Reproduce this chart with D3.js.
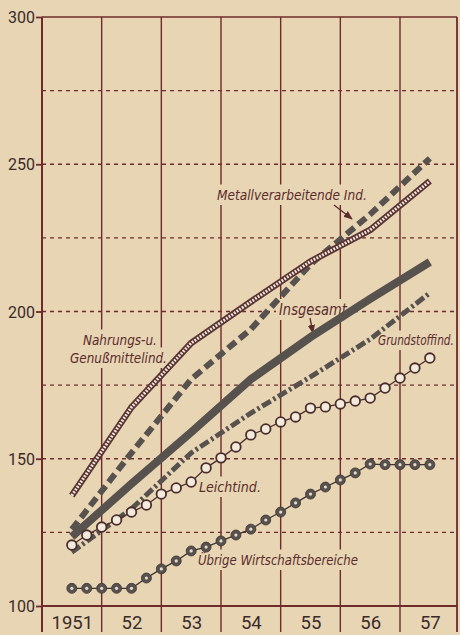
<!DOCTYPE html>
<html><head><meta charset="utf-8">
<script src="https://cdn.jsdelivr.net/npm/d3@7/dist/d3.min.js"></script>
<style>
html,body{margin:0;padding:0;background:#e8d5b4;}
svg{display:block;}
</style></head>
<body>
<svg id="c" width="460" height="635"></svg>
<script>
// ---------- data ----------
const years = [1951, 1952, 1953, 1954, 1955, 1956, 1957];
const yearLabels = ["1951", "52", "53", "54", "55", "56", "57"];
const yTicks = [100, 150, 200, 250, 300];
const yDashed = [125, 150, 175, 200, 225, 250, 275];

// annual values (plotted at mid-year)
const annualT = [1951.5, 1952.5, 1953.5, 1954.5, 1955.5, 1956.5, 1957.5];
const nahrung = [137.5, 167.5, 189.3, 203.3, 217.0, 227.7, 244.3];
const metall = [126.0, 152.0, 177.0, 194.0, 216.0, 233.0, 252.0];
const insgesamt = [123.5, 141.5, 159.0, 177.0, 191.3, 204.3, 216.8];
const grundstoff = [118.3, 133.0, 152.0, 165.5, 177.8, 190.6, 206.3];

// quarterly values
const quarterT = [1951.5, 1951.75, 1952.0, 1952.25, 1952.5, 1952.75, 1953.0, 1953.25, 1953.5, 1953.75,
  1954.0, 1954.25, 1954.5, 1954.75, 1955.0, 1955.25, 1955.5, 1955.75, 1956.0, 1956.25,
  1956.5, 1956.75, 1957.0, 1957.25, 1957.5];
const leicht = [120.7, 124.1, 126.8, 129.2, 131.9, 134.3, 138.0, 140.1, 142.1, 146.9,
  150.3, 154.0, 158.1, 160.1, 162.5, 164.2, 167.2, 167.6, 168.6, 169.6,
  170.6, 174.0, 177.4, 180.8, 184.2];
const uebrige = [106.0, 106.0, 106.0, 106.0, 106.0, 109.5, 112.6, 115.3, 118.7, 120.0,
  122.1, 124.1, 126.1, 129.2, 131.9, 135.0, 138.0, 140.4, 142.8, 145.2,
  148.2, 148.0, 148.0, 148.0, 148.0];

// ---------- layout ----------
const svg = d3.select("#c");
const L = 42, R = 457, T = 17, B = 606, BOT = 632;
const x = d3.scaleLinear().domain([1951, 1957]).range([L, 400]);
const y = d3.scaleLinear().domain([100, 300]).range([B, T]);

const bg = "#e8d5b4", gridC = "#6e2b2b", labC = "#5a2c2c", tickC = "#3a2b2b", grey = "#57524e";

svg.append("rect").attr("width", 460).attr("height", 635).attr("fill", bg);

// dashed horizontal grid
svg.append("g").selectAll("line").data(yDashed).join("line")
  .attr("x1", L).attr("x2", R).attr("y1", d => y(d)).attr("y2", d => y(d))
  .attr("stroke", gridC).attr("stroke-width", 1.3).attr("stroke-dasharray", "4,4");

// vertical year lines
svg.append("g").selectAll("line").data(years.slice(1)).join("line")
  .attr("x1", d => x(d)).attr("x2", d => x(d)).attr("y1", T).attr("y2", BOT)
  .attr("stroke", gridC).attr("stroke-width", 1.4);

// frame
svg.append("line").attr("x1", L).attr("x2", R).attr("y1", T).attr("y2", T).attr("stroke", gridC).attr("stroke-width", 1.6);
svg.append("line").attr("x1", R).attr("x2", R).attr("y1", T).attr("y2", BOT).attr("stroke", gridC).attr("stroke-width", 1.8);
svg.append("line").attr("x1", x(1951)).attr("x2", x(1951)).attr("y1", T).attr("y2", BOT).attr("stroke", gridC).attr("stroke-width", 2);
svg.append("line").attr("x1", L).attr("x2", R).attr("y1", B).attr("y2", B).attr("stroke", gridC).attr("stroke-width", 2.2);

// y axis
const yAxis = svg.append("g").attr("transform", `translate(${L},0)`)
  .call(d3.axisLeft(y).tickValues(yTicks).tickSize(6).tickPadding(1).tickFormat(d3.format("d")));
yAxis.select(".domain").remove();
yAxis.selectAll(".tick line").attr("stroke", gridC).attr("stroke-width", 1.8);
yAxis.selectAll(".tick text").attr("fill", tickC).attr("font-family", "Roboto, 'DejaVu Sans', sans-serif")
  .attr("font-size", 16).attr("dy", "0.35em");

// x axis labels
const xAxis = svg.append("g").attr("transform", `translate(0,${B})`)
  .call(d3.axisBottom(x).tickValues(annualT).tickSize(0).tickPadding(10).tickFormat((d, i) => yearLabels[i]));
xAxis.select(".domain").remove();
xAxis.selectAll(".tick text").attr("fill", tickC).attr("font-family", "Roboto, 'DejaVu Sans', sans-serif")
  .attr("font-size", 18.5);

// ---------- labels (with paper masks) ----------
const labels = [
  {t: "Metallverarbeitende Ind.", x: 217, y: 200, w: 150, fs: 14.5},
  {t: "Insgesamt", x: 279, y: 315, w: 68, fs: 15},
  {t: "Grundstoffind.", x: 378, y: 345, w: 76, fs: 13.5},
  {t: "Leichtind.", x: 199, y: 492, w: 62, fs: 14.5},
  {t: "Übrige Wirtschaftsbereiche", x: 198, y: 565, w: 160, fs: 14.5},
  {t: "Nahrungs-u.", x: 83, y: 345, w: 74, fs: 14.5},
  {t: "Genußmittelind.", x: 70, y: 363, w: 97, fs: 14.5}
];
const lg = svg.append("g");
lg.selectAll("rect").data(labels).join("rect")
  .attr("x", d => d.x - 3).attr("y", d => d.y - d.fs - 1).attr("width", d => Math.min(d.w + 6, R - 1 - (d.x - 3))).attr("height", d => d.fs + 6)
  .attr("fill", bg);
lg.selectAll("text").data(labels).join("text")
  .attr("x", 0).attr("y", 0).text(d => d.t)
  .attr("font-family", "'DejaVu Sans Condensed', 'Liberation Sans Narrow', Roboto, sans-serif")
  .attr("font-style", "italic").attr("font-size", d => d.fs)
  .attr("fill", labC)
  .each(function (d) {
    const nat = this.getComputedTextLength();
    const sx = d.w / nat;
    d3.select(this).attr("transform", `translate(${d.x},${d.y}) scale(${sx},1)`);
  });

// arrows
svg.append("defs").append("marker").attr("id", "ah").attr("viewBox", "0 0 10 10")
  .attr("refX", 9).attr("refY", 5).attr("markerWidth", 7).attr("markerHeight", 7).attr("orient", "auto")
  .append("path").attr("d", "M0,1 L10,5 L0,9 Z").attr("fill", labC);
svg.append("line").attr("x1", 334).attr("y1", 205).attr("x2", 352).attr("y2", 219)
  .attr("stroke", labC).attr("stroke-width", 1.3).attr("marker-end", "url(#ah)");
svg.append("line").attr("x1", 310).attr("y1", 318).attr("x2", 313).attr("y2", 333)
  .attr("stroke", labC).attr("stroke-width", 1.3).attr("marker-end", "url(#ah)");

// ---------- series ----------
const line = d3.line().x(d => x(d[0])).y(d => y(d[1]));
const zip = (t, v) => t.map((d, i) => [d, v[i]]);

// Grundstoff: dash-dot
svg.append("path").attr("d", line(zip(annualT, grundstoff))).attr("fill", "none")
  .attr("stroke", grey).attr("stroke-width", 5).attr("stroke-dasharray", "10,3,2.5,3");
// Insgesamt: solid thick
svg.append("path").attr("d", line(zip(annualT, insgesamt))).attr("fill", "none")
  .attr("stroke", grey).attr("stroke-width", 8);
// Metall: dashed thick
svg.append("path").attr("d", line(zip(annualT, metall))).attr("fill", "none")
  .attr("stroke", grey).attr("stroke-width", 6).attr("stroke-dasharray", "10,5");
// Nahrungs: ladder line
svg.append("path").attr("d", line(zip(annualT, nahrung))).attr("fill", "none")
  .attr("stroke", "#5a3434").attr("stroke-width", 6.5);
svg.append("path").attr("d", line(zip(annualT, nahrung))).attr("fill", "none")
  .attr("stroke", "#f2eadb").attr("stroke-width", 3).attr("stroke-dasharray", "1.8,1.4");

// Leicht: open circles
svg.append("path").attr("d", line(zip(quarterT, leicht))).attr("fill", "none")
  .attr("stroke", "#4a2e2e").attr("stroke-width", 1.3);
svg.append("g").selectAll("circle").data(zip(quarterT, leicht)).join("circle")
  .attr("cx", d => x(d[0])).attr("cy", d => y(d[1])).attr("r", 4.8)
  .attr("fill", "#f2eadb").attr("stroke", "#4a2e2e").attr("stroke-width", 1.8);

// Übrige: filled circles with light centre
svg.append("path").attr("d", line(zip(quarterT, uebrige))).attr("fill", "none")
  .attr("stroke", "#3f3434").attr("stroke-width", 1.3);
const ug = svg.append("g").selectAll("g").data(zip(quarterT, uebrige)).join("g");
ug.append("circle").attr("cx", d => x(d[0])).attr("cy", d => y(d[1])).attr("r", 5)
  .attr("fill", grey).attr("stroke", "#3f3434").attr("stroke-width", 0.8);
ug.append("circle").attr("cx", d => x(d[0])).attr("cy", d => y(d[1])).attr("r", 1.6)
  .attr("fill", "#e6dccb");
</script>
</body></html>
